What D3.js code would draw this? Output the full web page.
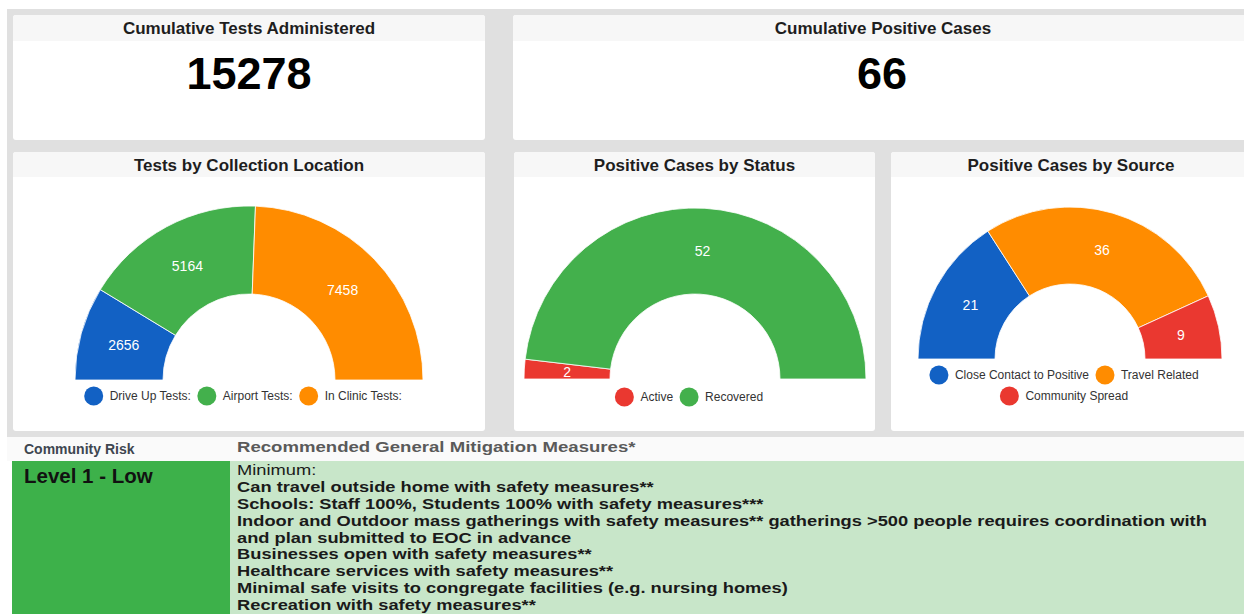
<!DOCTYPE html>
<html><head><meta charset="utf-8">
<script src="https://cdn.jsdelivr.net/npm/d3@7"></script>
<style>body{margin:0;background:#fff;font-family:Arial,"Liberation Sans",sans-serif}svg{display:block}</style>
</head><body><svg id="c" width="1244" height="614"></svg>
<script>
// ---- data ----
const kpiTitles = ["Cumulative Tests Administered", "Cumulative Positive Cases"];
const kpiValues = [15278, 66];

const chartTitles = ["Tests by Collection Location", "Positive Cases by Status", "Positive Cases by Source"];

const locationCategories = ["Drive Up Tests:", "Airport Tests:", "In Clinic Tests:"];
const locationValues = [2656, 5164, 7458];

const statusCategories = ["Active", "Recovered"];
const statusValues = [2, 52];

const sourceCategories = ["Close Contact to Positive", "Travel Related", "Community Spread"];
const sourceValues = [21, 36, 9];

const tableHeaders = ["Community Risk", "Recommended General Mitigation Measures*"];
const riskLevel = "Level 1 - Low";
const measureLines = [
  "Minimum:",
  "Can travel outside home with safety measures**",
  "Schools: Staff 100%, Students 100% with safety measures***",
  "Indoor and Outdoor mass gatherings with safety measures** gatherings >500 people requires coordination with",
  "and plan submitted to EOC in advance",
  "Businesses open with safety measures**",
  "Healthcare services with safety measures**",
  "Minimal safe visits to congregate facilities (e.g. nursing homes)",
  "Recreation with safety measures**"
];

// ---- styles ----
const BLUE = "#1261c4", GREEN = "#43b04c", ORANGE = "#ff8c00", RED = "#ea3830";
const svg = d3.select("#c");

// page background
svg.append("rect").attr("x", 7).attr("y", 9).attr("width", 1237).attr("height", 428).attr("fill", "#e0e0e0");

function card(x, y, w, h, hh, title, ty) {
  const g = svg.append("g");
  g.append("rect").attr("x", x).attr("y", y).attr("width", w).attr("height", h).attr("rx", 3).attr("fill", "#fff");
  g.append("path").attr("d", `M${x},${y+hh}V${y+3}a3,3 0 0 1 3,-3H${x+w-3}a3,3 0 0 1 3,3V${y+hh}Z`).attr("fill", "#f7f7f7");
  g.append("text").attr("x", x + w / 2).attr("y", ty).attr("text-anchor", "middle")
    .attr("font-size", 17).attr("font-weight", "bold").attr("fill", "#1e1e1e").text(title);
  return g;
}

// KPI cards
const kpiBoxes = [{x: 13, w: 472}, {x: 513, w: 740}];
kpiBoxes.forEach((b, i) => {
  card(b.x, 15, b.w, 125, 26, kpiTitles[i], 34);
  const cx = i === 0 ? b.x + b.w / 2 : 882;
  svg.append("text").attr("x", cx).attr("y", 89).attr("text-anchor", "middle")
    .attr("font-size", 45).attr("font-weight", "bold").attr("fill", "#000").text(kpiValues[i]);
});

// gauge cards
const gaugeBoxes = [
  {x: 13, w: 472, cx: 249, cy: 380, r0: 86, r1: 174, cats: locationCategories, vals: locationValues,
   colors: [BLUE, GREEN, ORANGE], rows: [[0, 1, 2]], ly: [396]},
  {x: 514, w: 361, cx: 695, cy: 379, r0: 85, r1: 171, cats: statusCategories, vals: statusValues,
   colors: [RED, GREEN], rows: [[0, 1]], ly: [397]},
  {x: 891, w: 360, cx: 1070, cy: 359, r0: 75, r1: 152, cats: sourceCategories, vals: sourceValues,
   colors: [BLUE, ORANGE, RED], rows: [[0, 1], [2]], ly: [375, 396]}
];

gaugeBoxes.forEach((b, gi) => {
  card(b.x, 152, b.w, 279, 25, chartTitles[gi], 171);
  const pie = d3.pie().sort(null).startAngle(-Math.PI / 2).endAngle(Math.PI / 2);
  const arc = d3.arc().innerRadius(b.r0).outerRadius(b.r1);
  const color = d3.scaleOrdinal().domain(b.cats).range(b.colors);
  const arcs = pie(b.vals);
  const g = svg.append("g").attr("transform", `translate(${b.cx},${b.cy})`);
  g.selectAll("path").data(arcs).join("path")
    .attr("d", arc).attr("fill", (d, i) => color(b.cats[i]))
    .attr("stroke", "#fff").attr("stroke-width", 0.8);
  g.selectAll("text").data(arcs).join("text")
    .attr("transform", d => `translate(${arc.centroid(d)})`)
    .attr("text-anchor", "middle").attr("dy", "0.36em")
    .attr("font-size", 14).attr("fill", "#fff").text(d => d.data);

  // legend
  b.rows.forEach((row, ri) => {
    const lg = svg.append("g");
    let x = 0;
    row.forEach(i => {
      const it = lg.append("g").attr("transform", `translate(${x},0)`);
      it.append("circle").attr("cx", 9.5).attr("r", 9.5).attr("fill", color(b.cats[i]));
      const t = it.append("text").attr("x", 25.5).attr("dy", "0.35em")
        .attr("font-size", 12).attr("fill", "#333").text(b.cats[i]);
      x += 25.5 + t.node().getComputedTextLength() + 6.5;
    });
    const w = x - 6.5;
    lg.attr("transform", `translate(${b.cx - 6 - w / 2},${b.ly[ri]})`);
  });
});

// ---- table ----
svg.append("rect").attr("x", 7).attr("y", 437).attr("width", 1237).attr("height", 24).attr("fill", "#fafafa");
svg.append("rect").attr("x", 12).attr("y", 461).attr("width", 218).attr("height", 153).attr("fill", "#3db14a");
svg.append("rect").attr("x", 230).attr("y", 461).attr("width", 1014).attr("height", 153).attr("fill", "#c8e6c9");

svg.append("text").attr("x", 24).attr("y", 454).attr("font-size", 14).attr("font-weight", "bold")
  .attr("fill", "#3e4650").text(tableHeaders[0]);
svg.append("text").attr("x", 0).attr("y", 452).attr("font-size", 15).attr("font-weight", "bold")
  .attr("fill", "#5a5a5a").attr("transform", "translate(237,0) scale(1.24,1)").text(tableHeaders[1]);

svg.append("text").attr("x", 24).attr("y", 483).attr("font-size", 20.5).attr("font-weight", "bold")
  .attr("fill", "#111").text(riskLevel);

const body = svg.append("g").attr("transform", "translate(237,0) scale(1.22,1)");
body.selectAll("text").data(measureLines).join("text")
  .attr("x", 0).attr("y", (d, i) => 475 + i * 16.9)
  .attr("font-size", 15).attr("font-weight", (d, i) => i === 0 ? "normal" : "bold")
  .attr("fill", "#1a1a1a").text(d => d);
</script></body></html>
